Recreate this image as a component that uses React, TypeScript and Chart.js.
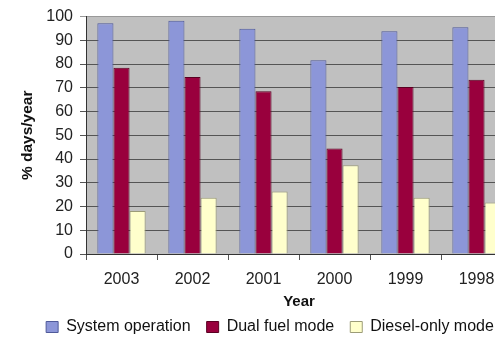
import React, { useEffect, useRef } from "react";
import { Chart, registerables } from "chart.js";

Chart.register(...registerables);

const years = ["2003", "2002", "2001", "2000", "1999", "1998"];
const systemOperation = [97.2, 98.3, 94.9, 81.6, 93.8, 95.5];
const dualFuelMode = [78.5, 74.6, 68.6, 44.4, 70.3, 73.4];
const dieselOnlyMode = [18.1, 23.7, 26.3, 37.4, 23.7, 21.7];
const seriesNames = ["System operation", "Dual fuel mode", "Diesel-only mode"];

const FONT = "'Liberation Sans', Arial, Helvetica, sans-serif";

const plotBg = {
  id: "plotBg",
  beforeDraw(chart: any) {
    const { ctx, chartArea } = chart;
    if (!chartArea) return;
    ctx.save();
    ctx.fillStyle = "#c0c0c0";
    ctx.fillRect(chartArea.left, chartArea.top, chartArea.right - chartArea.left, chartArea.bottom - chartArea.top);
    ctx.restore();
  },
};

export default function App() {
  const ref = useRef<HTMLCanvasElement | null>(null);
  useEffect(() => {
    if (!ref.current) return;
    const chart = new Chart(ref.current, {
      type: "bar",
      data: {
        labels: years,
        datasets: [
          {
            label: seriesNames[0],
            data: systemOperation,
            backgroundColor: "#8c96d8",
            borderColor: "#4f5a9a",
            borderWidth: 1,
          },
          {
            label: seriesNames[1],
            data: dualFuelMode,
            backgroundColor: "#99003d",
            borderColor: "#5a0022",
            borderWidth: 1,
          },
          {
            label: seriesNames[2],
            data: dieselOnlyMode,
            backgroundColor: "#ffffcc",
            borderColor: "#9c9c78",
            borderWidth: 1,
          },
        ],
      },
      options: {
        animation: false,
        responsive: false,
        devicePixelRatio: 1,
        layout: { padding: { top: 7, left: 0, right: 0, bottom: -8 } },
        datasets: { bar: { categoryPercentage: 0.68, barPercentage: 1 } },
        plugins: {
          tooltip: { enabled: false },
          legend: {
            position: "bottom",
            labels: {
              boxWidth: 12,
              boxHeight: 11,
              padding: 16,
              color: "#111",
              font: { family: FONT, size: 16 },
            },
          },
        },
        scales: {
          x: {
            offset: true,
            grid: {
              offset: true,
              drawOnChartArea: false,
              drawTicks: true,
              tickLength: 6,
              color: "#555",
            },
            border: { display: true, color: "#333" },
            ticks: { padding: 10, color: "#222", font: { family: FONT, size: 16 } },
            title: {
              display: true,
              text: "Year",
              color: "#111",
              font: { family: FONT, size: 15, weight: "bold" },
              padding: { top: 0, bottom: -8 },
            },
            afterFit(scale: any) {
              scale.height = 49;
            },
          },
          y: {
            min: 0,
            max: 100,
            ticks: { stepSize: 10, padding: 7, color: "#222", font: { family: FONT, size: 16 } },
            grid: {
              color: (c: any) => (c.tick && c.tick.value === 100 ? "#999" : "#555"),
              tickLength: 6,
            },
            border: { display: true, color: "#333" },
            title: {
              display: true,
              text: "% days/year",
              color: "#111",
              font: { family: FONT, size: 15.5, weight: "bold" },
              padding: { top: 18, bottom: 0 },
            },
            afterFit(scale: any) {
              scale.width = 86;
            },
          },
          yRight: {
            position: "right",
            display: true,
            min: 0,
            max: 100,
            grid: { display: false, drawTicks: false },
            ticks: { display: false },
            border: { display: false },
            afterFit(scale: any) {
              scale.width = 28;
            },
          },
        },
      },
      plugins: [plotBg],
    });
    return () => chart.destroy();
  }, []);
  return (
    <div style={{ position: "fixed", left: 0, top: 0, width: 495, height: 337, overflow: "hidden", background: "#fff" }}>
      <canvas ref={ref} width={540} height={337} style={{ display: "block", width: 540, height: 337 }} />
    </div>
  );
}
